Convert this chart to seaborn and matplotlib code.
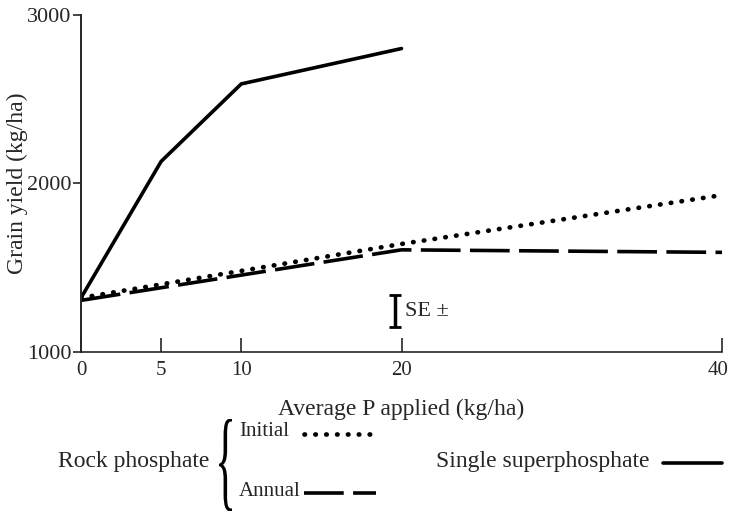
import pandas as pd
import seaborn as sns
import matplotlib.pyplot as plt
import matplotlib.transforms as mtransforms
from matplotlib.lines import Line2D
from matplotlib.textpath import TextPath
from matplotlib.patches import PathPatch
from matplotlib.font_manager import FontProperties

# Values
super_p = [0, 5, 10, 20]
super_yield = [1320, 2130, 2590, 2800]

rock_p = [0, 20, 40]
initial_yield = [1320, 1640, 1930]
annual_yield = [1305, 1605, 1590]

se_x = 19.6
se_mid = 1240
se_half = 95

xticks = [0, 5, 10, 20, 40]
yticks = [1000, 2000, 3000]

sns.set_style("ticks")
plt.rcParams['font.family'] = ['Liberation Serif', 'DejaVu Serif']

fig = plt.figure(figsize=(7.3, 5.12), dpi=100)
ax = fig.add_axes([0.111, 0.313, 0.878, 0.658])

df_super = pd.DataFrame({"P": super_p, "y": super_yield})
df_init = pd.DataFrame({"P": rock_p, "y": initial_yield})
df_ann = pd.DataFrame({"P": rock_p, "y": annual_yield})

sns.lineplot(data=df_super, x="P", y="y", color="black", lw=2.6, ax=ax,
             solid_joinstyle="miter")
sns.lineplot(data=df_ann, x="P", y="y", color="black", lw=2.6, ax=ax,
             linestyle=(0, (11, 2.6)))
sns.lineplot(data=df_init, x="P", y="y", color="black", lw=3.4, ax=ax,
             linestyle=(0, (0.1, 2.2)), dash_capstyle="round")

# standard error bar
ax.errorbar([se_x], [se_mid], yerr=[se_half], color="black", lw=2.5,
            capsize=4, capthick=2)
ax.text(se_x + 0.6, se_mid, "SE ±", fontsize=16, va="center", ha="left")

ax.set_xlim(0, 40)
ax.set_ylim(1000, 3000)
ax.set_xticks(xticks)
ax.set_yticks(yticks)
ax.set_xticklabels([str(t) for t in xticks], fontsize=15)
ax.set_yticklabels([str(t) for t in yticks], fontsize=16)
ax.tick_params(axis="x", direction="in", length=10, width=1.2, pad=7)
ax.tick_params(axis="y", direction="out", length=6, width=1.2, pad=1)
# keep the last x label inside the figure
last = ax.get_xticklabels()[-1]
last.set_transform(last.get_transform() +
                   mtransforms.ScaledTranslation(-4 / 100, 0, fig.dpi_scale_trans))
sns.despine(ax=ax)
ax.spines["left"].set_linewidth(1.4)
ax.spines["bottom"].set_linewidth(1.2)
ax.set_xlabel("Average P applied (kg/ha)", fontsize=17, labelpad=13)
ax.set_ylabel("Grain yield (kg/ha)", fontsize=17)
ax.yaxis.set_label_coords(-0.083, 0.5)

# key below the chart
W, H = 730, 512
def fx(px):
    return px / W
def fy(py):
    return 1 - py / H

fig.text(fx(58), fy(462), "Rock phosphate", fontsize=17, va="center", ha="left")
fig.text(fx(239), fy(432), "Initial", fontsize=15, va="center", ha="left")
fig.text(fx(239), fy(492), "Annual", fontsize=15, va="center", ha="left")
fig.text(fx(436), fy(462), "Single superphosphate", fontsize=17, va="center",
         ha="left")

# tall brace, stretched from a glyph outline (pixel coords)
tp = TextPath((0, 0), "{", size=40, prop=FontProperties(family="Liberation Serif"))
bb = tp.get_extents()
brace_tr = (mtransforms.Affine2D()
            .translate(-bb.x0, -bb.y0)
            .scale(13 / bb.width, 92 / bb.height)
            .translate(219, H - 511))
fig.add_artist(PathPatch(brace_tr.transform_path(tp), color="black", lw=0,
                         transform=mtransforms.IdentityTransform()))

fig.add_artist(Line2D([fx(304), fx(372)], [fy(434), fy(434)], color="black",
                      lw=3.4, linestyle=(0, (0.1, 2.2)), dash_capstyle="round"))
fig.add_artist(Line2D([fx(304), fx(376)], [fy(493), fy(493)], color="black",
                      lw=2.6, linestyle=(0, (11, 2.6))))
fig.add_artist(Line2D([fx(663), fx(722)], [fy(463), fy(463)], color="black",
                      lw=2.6))

fig.savefig("out.png", dpi=100)
